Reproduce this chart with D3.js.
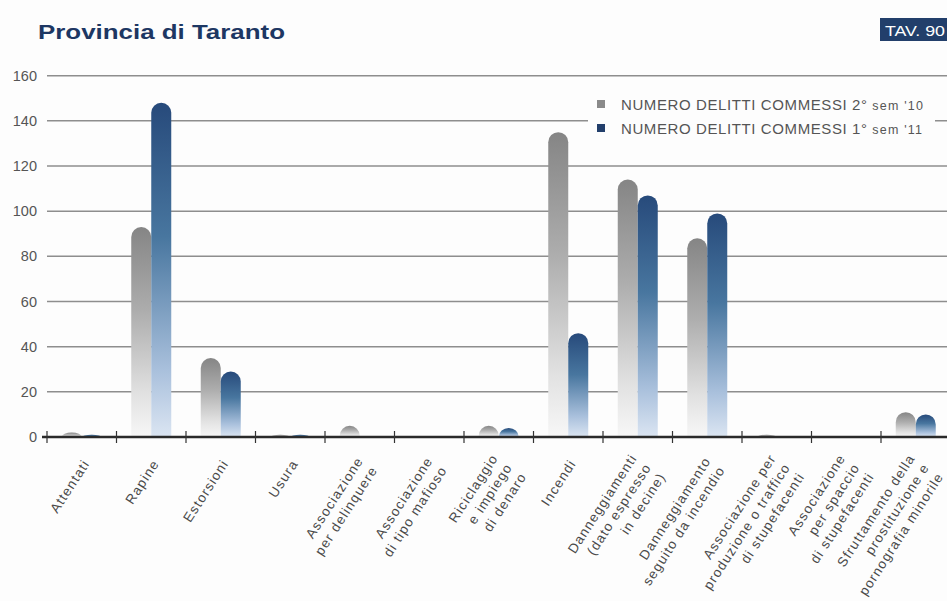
<!DOCTYPE html>
<html><head><meta charset="utf-8">
<script src="https://cdn.jsdelivr.net/npm/d3@7"></script>
<style>
html,body{margin:0;padding:0;background:#fdfdfd;}
svg{display:block;}
</style></head>
<body>
<svg id="chart" width="947" height="601"></svg>
<script>
// ---- data ----
const categories = [
  ["Attentati"],
  ["Rapine"],
  ["Estorsioni"],
  ["Usura"],
  ["Associazione","per delinquere"],
  ["Associazione","di tipo mafioso"],
  ["Riciclaggio","e impiego","di denaro"],
  ["Incendi"],
  ["Danneggiamenti","(dato espresso","in decine)"],
  ["Danneggiamento","seguito da incendio"],
  ["Associazione per","produzione o traffico","di stupefacenti"],
  ["Associazione","per spaccio","di stupefacenti"],
  ["Sfruttamento della","prostituzione e","pornografia minorile"]
];
const seriesNames = ["NUMERO DELITTI COMMESSI 2° sem '10", "NUMERO DELITTI COMMESSI 1° sem '11"];
const sem2_2010 = [2, 93, 35, 1, 5, 0, 5, 135, 114, 88, 1, 0, 11];
const sem1_2011 = [1, 148, 29, 1, 0, 0, 4, 46, 107, 99, 0, 0, 10];
const yTicks = [0, 20, 40, 60, 80, 100, 120, 140, 160];

const svg = d3.select("#chart");
const defs = svg.append("defs");

const catKeys = categories.map((c,i)=>"c"+i);
const x0 = d3.scaleBand().domain(catKeys).range([47, 47 + 13*69.5]).padding(0);
const x1 = d3.scaleBand().domain([0,1]).range([0, x0.bandwidth()]).paddingInner(0).paddingOuter(0.7375);
const y = d3.scaleLinear().domain([0,160]).range([437, 75.7]);

// gradients
function grad(id, stops){
  const g = defs.append("linearGradient").attr("id", id).attr("x1",0).attr("y1",0).attr("x2",0).attr("y2",1);
  stops.forEach(s=>g.append("stop").attr("offset", s[0]).attr("stop-color", s[1]));
}
grad("gGray", [[0,"#858585"],[0.4,"#adadad"],[0.8,"#e2e2e2"],[1,"#f7f7f7"]]);
grad("gBlue", [[0,"#274a7b"],[0.4,"#48769f"],[0.8,"#a9c0dc"],[1,"#dbe5f2"]]);

// title
svg.append("text").attr("x", 38).attr("y", 39)
  .attr("font-family", "'Liberation Sans', Arial, sans-serif").attr("font-weight", "bold")
  .attr("font-size", 21).attr("fill", "#1d3763").attr("textLength", 247).attr("lengthAdjust","spacingAndGlyphs")
  .text("Provincia di Taranto");
svg.append("rect").attr("x", 880).attr("y", 18).attr("width", 70).attr("height", 23).attr("fill", "#223f6b");
svg.append("text").attr("x", 885).attr("y", 35.5).attr("font-family", "'Liberation Sans', sans-serif")
  .attr("font-size", 15.5).attr("fill", "#fff").attr("textLength", 60).attr("lengthAdjust","spacingAndGlyphs").text("TAV. 90");

// gridlines
const grid = svg.append("g");
grid.selectAll("line").data(yTicks.filter(t=>t>0)).join("line")
  .attr("x1", 47).attr("x2", 947).attr("y1", d=>y(d)).attr("y2", d=>y(d))
  .attr("stroke", "#8e8e8e").attr("stroke-width", 1.5);

// y axis labels
const yAxis = d3.axisLeft(y).tickValues(yTicks).tickSize(0).tickPadding(10);
const ya = svg.append("g").attr("transform", "translate(47,0)").call(yAxis);
ya.select(".domain").remove();
ya.selectAll("text").attr("font-family", "'Liberation Sans', Arial, sans-serif").attr("font-size", 14.5).attr("fill", "#555");

// legend background
svg.append("rect").attr("x", 588).attr("y", 89).attr("width", 347).attr("height", 50).attr("fill", "#fdfdfd");
const leg = svg.append("g");
const legColors = ["#8a8a8a", "#223f6b"];
[0,1].forEach(i=>{
  const ly = 104 + i*24;
  leg.append("rect").attr("x", 597).attr("y", ly-4).attr("width", 8).attr("height", 8).attr("fill", legColors[i]);
  const t = leg.append("text").attr("x", 621).attr("y", ly+5.5)
    .attr("font-family", "'Liberation Sans', Arial, sans-serif").attr("font-size", 15)
    .attr("letter-spacing", 0.6).attr("fill", "#555");
  const parts = seriesNames[i].split(" sem ");
  t.append("tspan").text(parts[0]);
  t.append("tspan").attr("font-size", 12.5).attr("letter-spacing", 1.2).text(" sem " + parts[1]);
});

// bars
function barPath(x, w, v){
  const base = y(0), h = base - y(v);
  if (h <= 0) return "";
  const rx = w/2, ry = Math.min(rx, h);
  const yS = base - h + ry;
  return `M${x},${base}L${x},${yS}A${rx},${ry} 0 0 1 ${x+w},${yS}L${x+w},${base}Z`;
}
const barsData = [];
catKeys.forEach((k,i)=>{
  barsData.push({k, s:0, v: sem2_2010[i]});
  barsData.push({k, s:1, v: sem1_2011[i]});
});
svg.append("g").selectAll("path").data(barsData).join("path")
  .attr("d", d=>barPath(x0(d.k)+x1(d.s), x1.bandwidth(), d.v))
  .attr("fill", d=> d.s===0 ? "url(#gGray)" : "url(#gBlue)");

// x axis
const xa = svg.append("g");
xa.append("line").attr("x1", 42).attr("x2", 947).attr("y1", y(0)).attr("y2", y(0)).attr("stroke", "#2a2a2a").attr("stroke-width", 2.6);
const bounds = catKeys.map(k=>x0(k));
xa.selectAll("line.tk").data(bounds).join("line").attr("class","tk")
  .attr("x1", d=>d).attr("x2", d=>d).attr("y1", y(0)-6).attr("y2", y(0)+6)
  .attr("stroke", "#333").attr("stroke-width", 1.2);

// x labels
const lh = 17;
catKeys.forEach((k,i)=>{
  const lines = categories[i];
  const n = lines.length;
  const cx = x0(k) + x0.bandwidth()/2;
  const g = svg.append("g").attr("transform", `translate(${cx},${458}) rotate(-57)`);
  lines.forEach((ln,j)=>{
    g.append("text").attr("x", 0).attr("y", (j - (n-1)*0.3)*lh + 10)
      .attr("text-anchor", "end")
      .attr("font-family", "'Liberation Sans', Arial, sans-serif").attr("font-size", 13.5)
      .attr("letter-spacing", 1.2).attr("fill", "#4a4a4a").text(ln);
  });
});
</script>
</body></html>
